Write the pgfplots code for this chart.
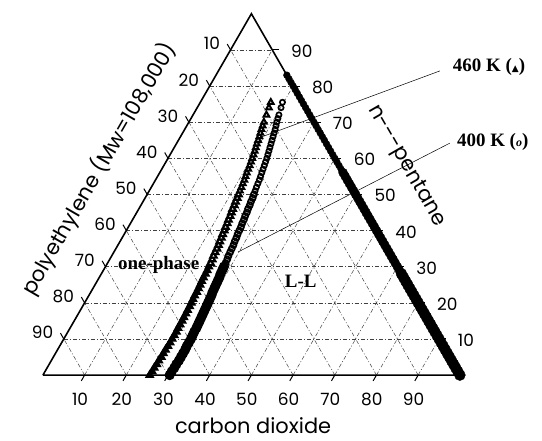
\documentclass[border=0pt]{standalone}
\usepackage{pgfplots}
\pgfplotsset{compat=1.18}
\usepackage{pgfplotstable}
\usepackage{fontspec}
\setmainfont{Liberation Serif}
\newfontfamily\geo{Poppins}
\newfontfamily\symf{DejaVu Sans}

% ternary data: c = carbon dioxide (wt%), p = n-pentane (wt%)
\pgfplotstableread{
c p
25.6 0
25.7 1
25.7 2
25.8 3
25.8 4
25.9 5
25.9 6
25.9 7
26.0 8
26.0 9
26.0 10
26.0 11
26.0 12
25.9 13
25.9 14
25.9 15
25.8 16
25.8 17
25.7 18
25.7 19
25.6 20
25.5 21
25.4 22
25.4 23
25.3 24
25.2 25
25.1 26
25.0 27
25.0 28
24.9 29
24.8 30
24.7 31
24.6 32
24.4 33
24.3 34
24.2 35
24.1 36
23.9 37
23.8 38
23.6 39
23.5 40
23.3 41
23.2 42
23.0 43
22.9 44
22.7 45
22.5 46
22.4 47
22.2 48
22.1 49
21.9 50
21.75 51
21.6 52
21.45 53
21.3 54
21.1 55
20.9 56
20.75 57
20.6 58
20.4 59
20.2 60
20.0 61
19.8 62
19.55 63
19.3 64
19.1 65
18.9 66
18.65 67
18.4 68
18.2 69
18.0 70
17.6 72
17.2 74
16.9 75.5
}\tabA

\pgfplotstableread{
c p
30.4 0
30.4 1
30.5 2
30.5 3
30.6 4
30.6 5
30.6 6
30.6 7
30.5 8
30.5 9
30.5 10
30.4 11
30.3 12
30.3 13
30.2 14
30.1 15
30.0 16
29.9 17
29.8 18
29.7 19
29.6 20
29.5 21
29.4 22
29.2 23
29.1 24
29.0 25
28.9 26
28.8 27
28.6 28
28.5 29
28.4 30
28.3 31
28.2 32
28.0 33
27.9 34
27.8 35
27.7 36
27.5 37
27.4 38
27.2 39
27.1 40
27.0 41
26.8 42
26.7 43
26.5 44
26.4 45
26.2 46
26.1 47
25.9 48
25.8 49
25.6 50
25.4 51
25.2 52
25.05 53
24.9 54
24.7 55
24.5 56
24.3 57
24.1 58
23.9 59
23.7 60
23.45 61
23.2 62
22.95 63
22.7 64
22.45 65
22.2 66
21.95 67
21.7 68
21.4 69
21.1 70
20.85 71
20.6 72
20.1 74
19.7 75.5
}\tabB

\pgfplotstableread{
c p
100 0
99 1
98 2
97 3
96 4
95 5
94 6
93 7
92 8
91 9
90 10
89 11
88 12
87 13
86 14
85 15
84 16
83 17
82 18
81 19
80 20
79 21
78 22
77 23
76 24
75 25
74 26
73 27
72 28
71 29
70 30
69 31
68 32
67 33
66 34
65 35
64 36
63 37
62 38
61 39
60 40
59 41
58 42
57 43
56 44
55 45
54 46
53 47
52 48
51 49
50 50
49 51
48 52
47 53
46 54
45 55
44 56
43 57
42 58
41 59
40 60
39 61
38 62
37 63
36 64
35 65
34 66
33 67
32 68
31 69
30 70
29 71
28 72
27 73
26 74
25 75
24 76
23 77
22 78
21 79
20 80
19 81
18 82
17 83
}\tabE

\tikzset{
  grd/.style={black!75, line width=0.5bp, dash pattern=on 4bp off 2bp on 1bp off 2bp},
  tck/.style={black, line width=1bp},
  tickf/.style={font=\geo\fontsize{17}{20}\selectfont, inner sep=0pt},
  labf/.style={font=\geo\fontsize{21}{24}\selectfont, inner sep=0pt},
  annf/.style={font=\bfseries\fontsize{19}{22}\selectfont, inner sep=0pt},
}

\begin{document}
\begin{tikzpicture}
\begin{axis}[
  scale only axis, width=542bp, height=441bp,
  xmin=-10.3, xmax=119.7, ymin=-15.8, ymax=89.9,
  hide axis, clip=false,
]
\path (axis cs:-10.3,-15.8) rectangle (axis cs:119.7,89.9);

% grid lines, ticks, tick labels
\pgfplotsinvokeforeach{10,20,30,40,50,60,70,80,90}{
  \draw[grd] (axis cs:{#1/2},{0.8660254*#1}) -- (axis cs:{100-#1/2},{0.8660254*#1});
  \draw[grd] (axis cs:{#1},0) -- (axis cs:{50+#1/2},{0.8660254*(100-#1)});
  \draw[grd] (axis cs:{100-#1},0) -- (axis cs:{(100-#1)/2},{0.8660254*(100-#1)});
  \draw[tck] (axis cs:{#1},0) -- (axis cs:{#1-0.8},{-1.39});
  \draw[tck] (axis cs:{(100-#1)/2},{0.8660254*(100-#1)}) -- (axis cs:{(100-#1)/2-0.8},{0.8660254*(100-#1)+1.39});
  \draw[tck] (axis cs:{100-#1/2},{0.8660254*#1}) -- (axis cs:{100-#1/2+1.6},{0.8660254*#1});
  \node[tickf, anchor=base] at (axis cs:{#1-1.1},-7.2) {#1};
  \node[tickf, anchor=base east] at (axis cs:{(100-#1)/2-2.5},{0.8660254*(100-#1)}) {#1};
  \node[tickf, anchor=west] at (axis cs:{100-#1/2+4.5},{0.8660254*#1-0.3}) {#1};
}

% triangle frame
\addplot[black, line width=1.6bp, line join=miter] coordinates {(0,0) (100,0) (50,86.60254) (0,0)};

% annotation lines
\addplot[black, line width=0.5bp] coordinates {(95.2,72.9) (52.5,57.1)};
\addplot[black, line width=0.5bp] coordinates {(97.6,55.6) (46.8,29.5)};

% binary CO2 / n-pentane edge data
\addplot[only marks, mark=*, mark size=5.5bp, black, restrict expr to domain={\thisrow{p}}{0:28}]
  table[x expr=\thisrow{c}+0.5*\thisrow{p}, y expr=0.8660254*\thisrow{p}] {\tabE};
\addplot[only marks, mark=*, mark size=4.5bp, black, restrict expr to domain={\thisrow{p}}{29:56}]
  table[x expr=\thisrow{c}+0.5*\thisrow{p}, y expr=0.8660254*\thisrow{p}] {\tabE};
\addplot[only marks, mark=*, mark size=3.4bp, black, restrict expr to domain={\thisrow{p}}{57:90}]
  table[x expr=\thisrow{c}+0.5*\thisrow{p}, y expr=0.8660254*\thisrow{p}] {\tabE};

% 460 K (triangles)
\addplot[only marks, mark=triangle*, mark size=4.6bp, mark options={fill=black, draw=black, line width=1bp}, restrict expr to domain={\thisrow{p}}{0:30}]
  table[x expr=\thisrow{c}+0.5*\thisrow{p}, y expr=0.8660254*\thisrow{p}] {\tabA};
\addplot[only marks, mark=triangle*, mark size=3.6bp, mark options={fill=white, draw=black, line width=2.2bp}, restrict expr to domain={\thisrow{p}}{31:50}]
  table[x expr=\thisrow{c}+0.5*\thisrow{p}, y expr=0.8660254*\thisrow{p}] {\tabA};
\addplot[only marks, mark=triangle*, mark size=3.2bp, mark options={fill=white, draw=black, line width=2bp}, restrict expr to domain={\thisrow{p}}{51:80}]
  table[x expr=\thisrow{c}+0.5*\thisrow{p}, y expr=0.8660254*\thisrow{p}] {\tabA};

% 400 K (circles)
\addplot[only marks, mark=*, mark size=4.6bp, mark options={fill=black, draw=black, line width=1bp}, restrict expr to domain={\thisrow{p}}{0:30}]
  table[x expr=\thisrow{c}+0.5*\thisrow{p}, y expr=0.8660254*\thisrow{p}] {\tabB};
\addplot[only marks, mark=o, mark size=3.0bp, mark options={draw=black, line width=1.8bp}, restrict expr to domain={\thisrow{p}}{31:50}]
  table[x expr=\thisrow{c}+0.5*\thisrow{p}, y expr=0.8660254*\thisrow{p}] {\tabB};
\addplot[only marks, mark=o, mark size=2.6bp, mark options={draw=black, line width=1.7bp}, restrict expr to domain={\thisrow{p}}{51:80}]
  table[x expr=\thisrow{c}+0.5*\thisrow{p}, y expr=0.8660254*\thisrow{p}] {\tabB};

% axis titles
\node[labf, anchor=base] at (axis cs:50.4,-14.1) {carbon dioxide};
\node[labf, anchor=center, rotate=60] at (axis cs:13.4,49.4) {polyethylene (Mw=108,000)};
\node[labf, anchor=center, rotate=-60] at (axis cs:87.1,50.1) {n---pentane};

% annotations
\node[annf, anchor=base west] at (axis cs:98.3,72.7) {460 K ({\symf\fontsize{9}{10}\selectfont ▲})};
\node[annf, anchor=base west] at (axis cs:99.3,54.7) {400 K ({\itshape\fontsize{12}{12}\selectfont o})};
\node[annf, anchor=base west] at (axis cs:18.0,25.4) {one-phase};
\node[annf, anchor=base west] at (axis cs:58.0,20.9) {L-L};
\end{axis}
\end{tikzpicture}
\end{document}
